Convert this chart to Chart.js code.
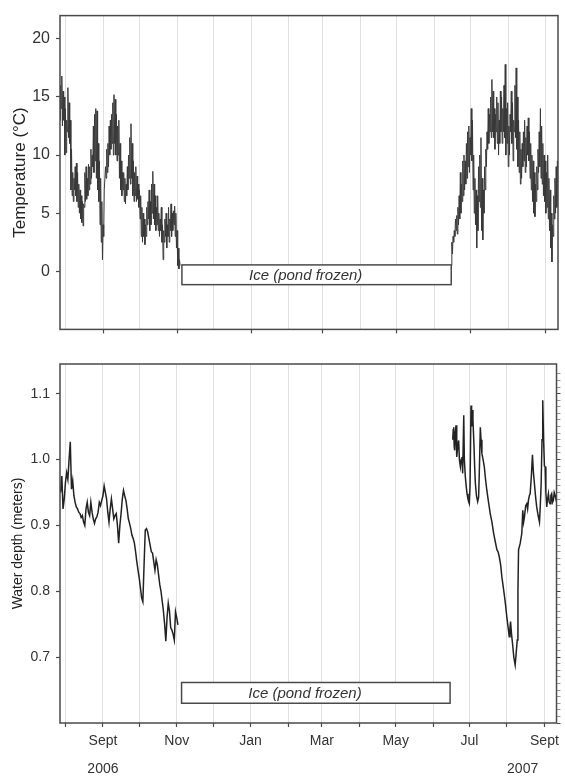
<!DOCTYPE html>
<html>
<head>
<meta charset="utf-8">
<title>Pond temperature and water depth</title>
<script src="https://cdn.jsdelivr.net/npm/chart.js@4.4.1/dist/chart.umd.min.js"></script>
<style>
  html, body { margin: 0; padding: 0; background: #fff; }
  #wrap { position: relative; width: 565px; height: 778px; }
  .panel { position: absolute; left: 0; width: 565px; }
  #tempPanel { top: 0; height: 345px; }
  #depthPanel { top: 345px; height: 433px; }
</style>
</head>
<body>
<div id="wrap">
  <div class="panel" id="tempPanel"><canvas id="tempChart"></canvas></div>
  <div class="panel" id="depthPanel"><canvas id="depthChart"></canvas></div>
</div>
<script>
// x values are days since 1 Aug 2006
const dayMin = -4.5;
const dayMax = 406;
const monthStarts = [0, 31, 61, 92, 122, 153, 184, 212, 243, 273, 304, 334, 365, 396];
const monthLabels = ['', 'Sept', '', 'Nov', '', 'Jan', '', 'Mar', '', 'May', '', 'Jul', '', 'Sept'];
const yearLabels = ['2006', '2007'];
const yearLabelDays = [31, 378];

// ice cover period
const iceStart = 96;
const iceEnd = 318;
const iceLabelDay = 198;
const iceText = 'Ice (pond frozen)';
const iceTempRange = [0.55, -1.15];
const iceDepthRange = [0.6615, 0.630];

// water temperature, two readings a day
const temp2006Start = -4.5;
const temp2006 = [
  13, 16, 14, 16.8, 12.5, 15.5, 13, 15, 10, 14, 10.2, 13, 12, 15.8, 11.5, 14.5, 11, 13, 7, 10.5,
  6.5, 8.5, 6, 8, 7, 9, 6.5, 9.3, 6, 8.5, 5.5, 7.5, 5, 7, 4.5, 6.5, 4.2, 6, 3.9, 5.8,
  5.5, 8.5, 6, 9, 6.2, 8, 6.5, 9.2, 7, 9, 7.5, 10.5, 8, 10, 9, 12.5, 8.5, 13.5, 9.5, 14,
  8, 13.8, 7, 11, 6, 9.5, 4, 8, 2.5, 6, 1, 4, 3, 7, 7, 9, 8, 10.5, 8.5, 11,
  9, 12.5, 10, 13, 10.5, 13.5, 11, 14.5, 10, 15.2, 11, 14.8, 10, 13.5, 9.5, 12.5, 10, 13, 8, 11,
  7, 9.5, 6.5, 8.5, 7, 8.5, 6, 8, 5.8, 7.5, 6.5, 9, 7, 10, 8, 11.5, 7.5, 12.7, 8, 11,
  6.5, 9.5, 6, 8.5, 6.5, 9, 6, 8.2, 6.2, 7.5, 5.5, 7, 4.5, 6.5, 3, 5.5, 2.5, 5, 3, 4.5,
  2.3, 4, 3, 5.5, 4, 6, 4.5, 7, 3.5, 6, 4, 7.5, 5, 8.6, 4.5, 7.5, 4, 6.5, 3.5, 5.5,
  4, 6.5, 3.5, 5, 3, 4.5, 3.5, 5.5, 2.5, 4, 1, 3.5, 2.5, 4.5, 3, 5, 2, 4, 3, 5.5,
  2.5, 4.5, 3.5, 5.8, 3, 5, 3.5, 5.2, 4, 5.6, 3, 5, 2, 3.5, 0.5, 2, 0.2, 1, 0.5
];
const temp2007Start = 318;
const temp2007 = [
  0.5, 2.5, 1.5, 3, 2.5, 3.5, 3, 4.5, 3.5, 4.8, 3.2, 5.5, 4, 6.5, 4.5, 8.5, 5, 7.5, 6, 9.5,
  6.5, 10, 7, 9.5, 7.5, 11, 8, 12, 9, 12.5, 8.5, 11.5, 10, 14, 9.5, 13, 7, 10, 5, 8,
  4, 7, 2, 6.5, 3.5, 9, 6, 10, 5.5, 11.5, 3.5, 8, 2.7, 7, 5, 9, 7, 10.5, 9, 12,
  10.5, 14, 11, 13.5, 12, 15, 11.5, 16.5, 12, 15.5, 11.5, 14, 10.5, 13.5, 12, 15, 11, 14.5, 10, 13,
  11, 15.5, 12, 15, 11, 14, 12, 16, 11.5, 17.8, 10, 14, 11, 14.5, 9, 12.5, 10, 13.5, 12, 15.5,
  11, 14.5, 9.5, 13, 12, 16, 11.5, 17.5, 10.5, 15, 9, 13, 8.5, 12, 7.5, 10.5, 8, 11, 9, 12,
  9.5, 13, 8.5, 11.5, 9, 12.5, 10, 13.2, 9.5, 12, 8, 11, 7, 10, 6, 9.5, 5, 8.5, 4.7, 7.5,
  6, 9, 7, 10.5, 8.5, 12, 9, 14, 8, 12.5, 7.5, 11, 6.5, 10, 6, 9.5, 5, 8.5, 5.5, 10,
  4.5, 8, 3.5, 7, 2, 5, 0.8, 4, 3, 6.5, 4.5, 8, 5, 9, 5.5, 9.5, 6
];
const tempTicks = [0, 5, 10, 15, 20];

// water depth (m), daily in 2006
const depth2006Start = -4;
const depth2006 = [
  0.95, 0.975, 0.925, 0.94, 0.965, 0.98, 0.97, 1.0, 1.027, 0.955,
  0.968, 0.945, 0.935, 0.928, 0.925, 0.92, 0.918, 0.912, 0.915, 0.905,
  0.90, 0.925, 0.935, 0.92, 0.915, 0.935, 0.92, 0.91, 0.903, 0.91,
  0.913, 0.92, 0.935, 0.93, 0.938, 0.945, 0.96, 0.95, 0.94, 0.92,
  0.905, 0.925, 0.94, 0.925, 0.91, 0.915, 0.918, 0.90, 0.873, 0.90,
  0.918, 0.94, 0.953, 0.945, 0.938, 0.925, 0.91, 0.903, 0.895, 0.885,
  0.88, 0.873, 0.86, 0.845, 0.832, 0.82, 0.805, 0.79, 0.784, 0.84,
  0.893, 0.895, 0.89, 0.88, 0.87, 0.86, 0.858, 0.845, 0.832, 0.848,
  0.84, 0.825, 0.81, 0.80, 0.785, 0.77, 0.75, 0.724, 0.76, 0.782,
  0.77, 0.745, 0.741, 0.735, 0.726, 0.769, 0.76, 0.749
];
// water depth (m) in 2007, irregular readings
const depth2007Days = [
  320.2, 320.6, 321, 321.4, 321.8, 322.3, 322.9, 323.3, 323.7, 324.3,
  325.1, 325.7, 326.5, 327.2, 327.8, 328.4, 329.3, 329.8, 330.6, 331.3,
  332, 332.8, 333.5, 333.9, 334.5, 335.3, 335.8, 336.4, 336.9, 337.7,
  338.3, 338.9, 339.8, 340.8, 341.6, 342.3, 343, 343.6, 344.3, 345.3,
  346.3, 347.3, 348.4, 349.8, 351.2, 352.6, 354, 355.4, 356.7, 357.7,
  358.7, 359.8, 360.8, 362, 363, 364, 364.9, 366, 366.9, 367.5,
  368, 368.8, 369.6, 370.7, 371.8, 372.6, 373.5, 374.1, 374.6, 376,
  377.3, 378.1, 378.8, 379.5, 380.5, 381.4, 382.1, 382.8, 383.5, 384.2,
  385.2, 386.1, 386.9, 387.7, 388.6, 389.6, 390.8, 391.9, 392.6, 393.3,
  394, 394.6, 395.3, 396, 396.6, 397.2, 397.9, 398.6, 399.3, 400,
  400.7, 401.3, 402, 402.7, 403.4, 404.1, 404.8, 405.5
];
const depth2007 = [
  1.03, 1.045, 1.049, 1.02, 1.014, 1.04, 1.052, 1.02, 1.004, 1.02,
  1.029, 1.0, 0.989, 1.0, 1.004, 0.979, 1.067, 1.0, 0.974, 0.96,
  0.948, 0.94, 0.935, 0.933, 0.96, 1.082, 1.05, 1.075, 1.06, 1.024,
  0.99, 0.964, 0.945, 0.936, 0.943, 0.99, 1.049, 1.03, 1.009, 1.0,
  0.989, 0.97, 0.953, 0.935, 0.918, 0.905, 0.888, 0.875, 0.863, 0.86,
  0.852, 0.84, 0.822, 0.806, 0.792, 0.777, 0.761, 0.745, 0.731, 0.745,
  0.754, 0.735, 0.721, 0.70, 0.688, 0.705, 0.726, 0.80, 0.863, 0.873,
  0.888, 0.923, 0.905, 0.913, 0.93, 0.933, 0.925, 0.938, 0.945, 0.948,
  0.975, 1.007, 0.98, 0.964, 0.945, 0.928, 0.915, 0.905, 0.93, 0.964,
  1.03, 1.09, 1.03, 0.99, 0.989, 0.95, 0.928, 0.94, 0.948, 0.935,
  0.933, 0.945, 0.948, 0.935, 0.938, 0.95, 0.946, 0.94
];
const depthTicks = [0.7, 0.8, 0.9, 1.0, 1.1];

Chart.defaults.font.family = "'Liberation Sans', Arial, sans-serif";
Chart.defaults.color = '#333';

const frameColor = '#4a4a4a';
const gridColor = '#e0e0e0';

function stepped(start, step, values) {
  return values.map((v, i) => ({ x: start + i * step, y: v }));
}
function paired(days, values) {
  return values.map((v, i) => ({ x: days[i], y: v }));
}

// box around the plot area
const framePlugin = {
  id: 'frame',
  afterDraw(chart) {
    const a = chart.chartArea, ctx = chart.ctx;
    ctx.save();
    ctx.strokeStyle = frameColor;
    ctx.lineWidth = 1.5;
    ctx.strokeRect(a.left, a.top, a.right - a.left, a.bottom - a.top);
    ctx.restore();
  }
};

// white bar marking the frozen period
const iceBoxPlugin = {
  id: 'iceBox',
  afterDatasetsDraw(chart, args, opts) {
    const xs = chart.scales.x, ys = chart.scales.y, ctx = chart.ctx;
    const x0 = xs.getPixelForValue(iceStart), x1 = xs.getPixelForValue(iceEnd);
    const y0 = ys.getPixelForValue(opts.range[0]), y1 = ys.getPixelForValue(opts.range[1]);
    ctx.save();
    ctx.fillStyle = '#fff';
    ctx.fillRect(x0, y0, x1 - x0, y1 - y0);
    ctx.strokeStyle = frameColor;
    ctx.lineWidth = 1.5;
    ctx.strokeRect(x0, y0, x1 - x0, y1 - y0);
    ctx.fillStyle = '#333';
    ctx.font = "italic 15px 'Liberation Sans', Arial, sans-serif";
    ctx.textAlign = 'center';
    ctx.textBaseline = 'middle';
    ctx.fillText(iceText, xs.getPixelForValue(iceLabelDay), (y0 + y1) / 2 + 1);
    ctx.restore();
  }
};

// year captions under the month labels
const yearPlugin = {
  id: 'years',
  afterDraw(chart) {
    const xs = chart.scales.x, ctx = chart.ctx;
    ctx.save();
    ctx.fillStyle = '#333';
    ctx.font = "14px 'Liberation Sans', Arial, sans-serif";
    ctx.textAlign = 'center';
    ctx.textBaseline = 'middle';
    yearLabels.forEach((t, i) => {
      ctx.fillText(t, xs.getPixelForValue(yearLabelDays[i]), chart.chartArea.bottom + 46);
    });
    ctx.restore();
  }
};

function monthAxis(showLabels, height) {
  return {
    type: 'linear',
    min: dayMin,
    max: dayMax,
    afterBuildTicks: s => { s.ticks = monthStarts.map(v => ({ value: v })); },
    afterFit: s => { s.height = height; },
    ticks: {
      display: showLabels,
      autoSkip: false,
      maxRotation: 0,
      padding: 6,
      color: '#333',
      font: { size: 14 },
      callback: (v, i) => monthLabels[i]
    },
    grid: {
      color: gridColor,
      lineWidth: 1,
      tickLength: 4,
      tickWidth: 1.2,
      tickColor: ctx => (showLabels || monthLabels[ctx.index] !== '') ? frameColor : 'rgba(0,0,0,0)'
    },
    border: { display: false }
  };
}

const lineStyle = {
  pointRadius: 0,
  tension: 0,
  fill: false
};

new Chart(document.getElementById('tempChart'), {
  type: 'line',
  data: {
    datasets: [
      { ...lineStyle, data: stepped(temp2006Start, 0.5, temp2006), borderColor: '#3a3a3a', borderWidth: 1 },
      { ...lineStyle, data: stepped(temp2007Start, 0.5, temp2007), borderColor: '#3a3a3a', borderWidth: 1 }
    ]
  },
  options: {
    responsive: true,
    maintainAspectRatio: false,
    animation: false,
    layout: { padding: { top: 8, right: 7, left: 0, bottom: 0 } },
    plugins: {
      legend: { display: false },
      tooltip: { enabled: false },
      iceBox: { range: iceTempRange }
    },
    scales: {
      x: monthAxis(false, 10),
      y: {
        min: -5,
        max: 22,
        afterBuildTicks: s => { s.ticks = tempTicks.map(v => ({ value: v })); },
        afterFit: s => { s.width = 60; },
        ticks: { padding: 6, color: '#333', font: { size: 16 } },
        grid: { drawOnChartArea: false, tickLength: 4, tickWidth: 1.2, tickColor: frameColor },
        border: { display: false },
        title: {
          display: true,
          text: 'Temperature (°C)',
          color: '#222',
          font: { size: 17 },
          padding: { top: 10, bottom: 0 }
        }
      }
    }
  },
  plugins: [iceBoxPlugin, framePlugin]
});

new Chart(document.getElementById('depthChart'), {
  type: 'line',
  data: {
    datasets: [
      { ...lineStyle, data: stepped(depth2006Start, 1, depth2006), borderColor: '#222', borderWidth: 1.5 },
      { ...lineStyle, data: paired(depth2007Days, depth2007), borderColor: '#222', borderWidth: 1.5 }
    ]
  },
  options: {
    responsive: true,
    maintainAspectRatio: false,
    animation: false,
    layout: { padding: { top: 19, right: 7, left: 0, bottom: 0 } },
    plugins: {
      legend: { display: false },
      tooltip: { enabled: false },
      iceBox: { range: iceDepthRange }
    },
    scales: {
      x: monthAxis(true, 55),
      y: {
        min: 0.6,
        max: 1.145,
        afterBuildTicks: s => { s.ticks = depthTicks.map(v => ({ value: v })); },
        afterFit: s => { s.width = 60; },
        ticks: { padding: 6, color: '#333', font: { size: 14 }, callback: v => v.toFixed(1) },
        grid: { drawOnChartArea: false, tickLength: 4, tickWidth: 1.2, tickColor: frameColor },
        border: { display: false },
        title: {
          display: true,
          text: 'Water depth (meters)',
          color: '#222',
          font: { size: 14 },
          padding: { top: 10, bottom: 0 }
        }
      },
      y2: {
        position: 'right',
        min: 0.6,
        max: 1.145,
        ticks: { display: false, stepSize: 0.01 },
        afterBuildTicks: s => {
          s.ticks = s.ticks.filter(t => Math.abs(t.value * 100 - Math.round(t.value * 100)) < 1e-6);
        },
        afterFit: s => { s.width = 0; },
        grid: {
          drawOnChartArea: false,
          tickLength: 4,
          tickWidth: 1,
          tickColor: ctx => Math.abs(ctx.tick.value * 10 - Math.round(ctx.tick.value * 10)) < 1e-6 ? frameColor : '#999'
        },
        border: { display: false }
      }
    }
  },
  plugins: [iceBoxPlugin, framePlugin, yearPlugin]
});
</script>
</body>
</html>
